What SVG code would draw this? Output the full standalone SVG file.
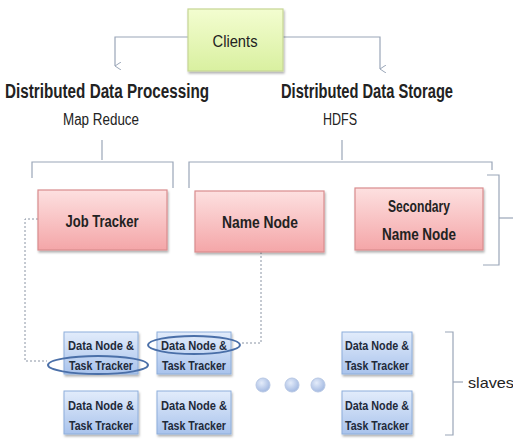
<svg xmlns="http://www.w3.org/2000/svg" width="513" height="442" viewBox="0 0 513 442">
<defs>
<linearGradient id="gGreen" x1="0" y1="0" x2="0" y2="1"><stop offset="0" stop-color="#f3fdd0"/><stop offset="1" stop-color="#d9f0a0"/></linearGradient>
<linearGradient id="gRed" x1="0" y1="0" x2="0" y2="1"><stop offset="0" stop-color="#fde0e0"/><stop offset="1" stop-color="#f4a6a8"/></linearGradient>
<linearGradient id="gBlue" x1="0" y1="0" x2="0" y2="1"><stop offset="0" stop-color="#e2ecfb"/><stop offset="1" stop-color="#a9c3ec"/></linearGradient>
<radialGradient id="gDot" cx="0.4" cy="0.35" r="0.7"><stop offset="0" stop-color="#e4ecfa"/><stop offset="1" stop-color="#9fb6e0"/></radialGradient>
<marker id="arr" markerWidth="8" markerHeight="8" refX="4" refY="6" orient="auto" markerUnits="userSpaceOnUse"><path d="M0,0 L4,6 L8,0" fill="none" stroke="#9aa6b8" stroke-width="1"/></marker>
<filter id="sh" x="-10%" y="-10%" width="130%" height="140%"><feDropShadow dx="1" dy="2" stdDeviation="1.2" flood-color="#000" flood-opacity="0.3"/></filter>
</defs>
<style>
.t{font-family:"Liberation Sans",Arial,sans-serif;fill:#222;}
.b{font-weight:bold;}
.ln{fill:none;stroke:#9aa6b8;stroke-width:1.2;}
.dash{fill:none;stroke:#8a94a4;stroke-width:1;stroke-dasharray:2,2;}
.red{fill:url(#gRed);stroke:#d98c8e;stroke-width:1.2;filter:url(#sh);}
.blue{fill:url(#gBlue);stroke:#8eaedb;stroke-width:1;filter:url(#sh);}
.ell{fill:none;stroke:#4a6fa8;stroke-width:2;}
.dn{font-family:"Liberation Sans",Arial,sans-serif;font-weight:bold;font-size:13px;fill:#1f2a3a;text-anchor:middle;}
</style>
<rect width="513" height="442" fill="#ffffff"/>

<g id="connectors">
<path class="ln" d="M188,37 H115 V66" marker-end="url(#arr)"/>
<path class="ln" d="M283,37 H380 V69" marker-end="url(#arr)"/>
<path class="ln" d="M32,178 V162 H173 V188"/>
<path class="ln" d="M102,160 V140"/>
<path class="ln" d="M189,188 V162 H492 V170"/>
<path class="ln" d="M342,160 V140"/>
<path class="ln" d="M487,175 H499 V265 H483"/>
<path class="ln" d="M499,218 H513"/>
<path class="ln" d="M445,332 H453 V435 H445"/>
<path class="ln" d="M453,382 H463"/>
<path class="dash" d="M38,219 H25 V361 H47"/>
<path class="dash" d="M261,252 V343 H240"/>
</g>

<g id="clients">
<rect x="188" y="9" width="95" height="62" fill="url(#gGreen)" stroke="#c6d694" stroke-width="1.2" filter="url(#sh)"/>
<text class="t" x="235" y="47" font-size="17" text-anchor="middle" fill="#33402a" textLength="45" lengthAdjust="spacingAndGlyphs">Clients</text>
</g>

<g id="label-processing">
<text class="t b" x="5" y="98" font-size="20" textLength="204" lengthAdjust="spacingAndGlyphs">Distributed Data Processing</text>
<text class="t" x="63" y="125" font-size="16" textLength="76" lengthAdjust="spacingAndGlyphs">Map Reduce</text>
</g>
<g id="label-storage">
<text class="t b" x="281" y="98" font-size="20" textLength="172" lengthAdjust="spacingAndGlyphs">Distributed Data Storage</text>
<text class="t" x="323" y="125" font-size="16" textLength="34" lengthAdjust="spacingAndGlyphs">HDFS</text>
</g>

<g id="job-tracker">
<rect class="red" x="38" y="190" width="129" height="60"/>
<text class="t b" x="102" y="227" font-size="16" text-anchor="middle" textLength="73" lengthAdjust="spacingAndGlyphs">Job Tracker</text>
</g>
<g id="name-node">
<rect class="red" x="195" y="191" width="129" height="61"/>
<text class="t b" x="260" y="228" font-size="16" text-anchor="middle" textLength="76" lengthAdjust="spacingAndGlyphs">Name Node</text>
</g>
<g id="secondary-name-node">
<rect class="red" x="355" y="188" width="128" height="62"/>
<text class="t b" x="419" y="212" font-size="16" text-anchor="middle" textLength="62" lengthAdjust="spacingAndGlyphs">Secondary</text>
<text class="t b" x="419" y="240" font-size="16" text-anchor="middle" textLength="74" lengthAdjust="spacingAndGlyphs">Name Node</text>
</g>

<g id="dn1">
<rect class="blue" x="64" y="332" width="74" height="42"/>
<text class="dn" x="101" y="350" textLength="66" lengthAdjust="spacingAndGlyphs">Data Node &amp;</text>
<text class="dn" x="101" y="370" textLength="64" lengthAdjust="spacingAndGlyphs">Task Tracker</text>
</g>
<g id="dn2">
<rect class="blue" x="157" y="332" width="74" height="42"/>
<text class="dn" x="194" y="350" textLength="66" lengthAdjust="spacingAndGlyphs">Data Node &amp;</text>
<text class="dn" x="194" y="370" textLength="64" lengthAdjust="spacingAndGlyphs">Task Tracker</text>
</g>
<g id="dn3">
<rect class="blue" x="342" y="332" width="70" height="42"/>
<text class="dn" x="377" y="350" textLength="64" lengthAdjust="spacingAndGlyphs">Data Node &amp;</text>
<text class="dn" x="377" y="370" textLength="64" lengthAdjust="spacingAndGlyphs">Task Tracker</text>
</g>
<g id="dn4">
<rect class="blue" x="64" y="391" width="74" height="43"/>
<text class="dn" x="101" y="410" textLength="66" lengthAdjust="spacingAndGlyphs">Data Node &amp;</text>
<text class="dn" x="101" y="430" textLength="64" lengthAdjust="spacingAndGlyphs">Task Tracker</text>
</g>
<g id="dn5">
<rect class="blue" x="157" y="391" width="74" height="43"/>
<text class="dn" x="194" y="410" textLength="66" lengthAdjust="spacingAndGlyphs">Data Node &amp;</text>
<text class="dn" x="194" y="430" textLength="64" lengthAdjust="spacingAndGlyphs">Task Tracker</text>
</g>
<g id="dn6">
<rect class="blue" x="342" y="391" width="70" height="43"/>
<text class="dn" x="377" y="410" textLength="64" lengthAdjust="spacingAndGlyphs">Data Node &amp;</text>
<text class="dn" x="377" y="430" textLength="64" lengthAdjust="spacingAndGlyphs">Task Tracker</text>
</g>

<g id="highlights">
<ellipse class="ell" cx="98" cy="365" rx="50" ry="9"/>
<ellipse class="ell" cx="194" cy="345" rx="46" ry="9"/>
</g>

<g id="dots">
<circle cx="263" cy="385" r="7" fill="url(#gDot)" stroke="#b8c8e4" stroke-width="1"/>
<circle cx="292" cy="385" r="7" fill="url(#gDot)" stroke="#b8c8e4" stroke-width="1"/>
<circle cx="318" cy="385" r="7" fill="url(#gDot)" stroke="#b8c8e4" stroke-width="1"/>
</g>

<g id="slaves-label">
<text class="t" x="468" y="388" font-size="15" textLength="46" lengthAdjust="spacingAndGlyphs">slaves</text>
</g>
</svg>
